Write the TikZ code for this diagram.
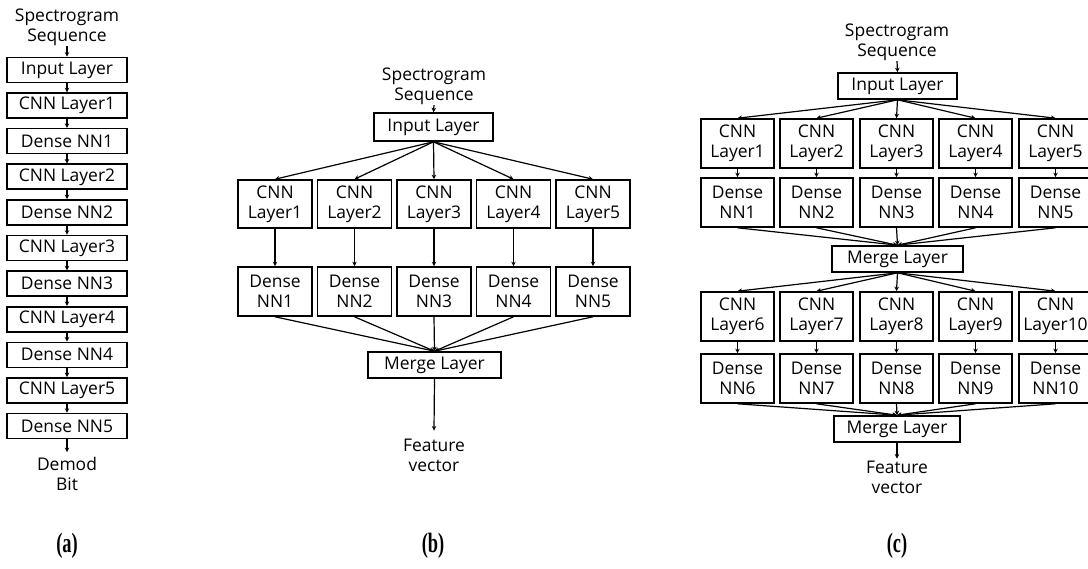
\documentclass[tikz,border=0pt]{standalone}
\usepackage{fontspec}
\setmainfont{Open Sans}
\newfontfamily\capfont{Liberation Serif}
\usetikzlibrary{arrows.meta}
\begin{document}
\begin{tikzpicture}[x=1bp,y=-1bp,
  every node/.style={inner sep=0pt, font=\fontsize{17.5}{20}\selectfont, align=center},
  bx/.style 2 args={draw, line width=1.6bp, minimum width=#1, minimum height=#2},
  lnk/.style={-{Stealth[length=4.5bp,width=4.5bp]}, line width=1.2bp},
  figcap/.style={font=\capfont\bfseries\fontsize{28}{28}\selectfont}
]
\useasboundingbox (0,0) rectangle (1088,569);

% ---------------- (a) ----------------
\node (asrc) at (67,27.5) {Spectrogram\\Sequence};
\foreach \t [count=\i from 0] in {Input Layer, CNN Layer1, Dense NN1, CNN Layer2, Dense NN2, CNN Layer3, Dense NN3, CNN Layer4, Dense NN4, CNN Layer5, Dense NN5}
  \node[bx={120bp}{25bp}] (a\i) at (67,70+35.6*\i) {\t};
\node (aout) at (67,474) {Demod\\Bit};
\draw[lnk] (asrc.south) -- (a0.north);
\foreach \i in {0,...,9} {
  \pgfmathtruncatemacro{\j}{\i+1}
  \draw[lnk] (a\i.south) -- (a\j.north);
}
\draw[lnk] (a10.south) -- ([yshift=5bp]aout.north);
\node[figcap] (capa) at (67,546) {\scalebox{0.66}[1]{(a)}};

% ---------------- (b) ----------------
\node (bsrc) at (434,86.5) {Spectrogram\\Sequence};
\node[bx={119bp}{28bp}] (bin) at (433.5,127) {Input Layer};
\node[bx={133bp}{26bp}] (bm) at (434.5,365) {Merge Layer};
\node (bout) at (434,455) {Feature\\vector};
\draw[lnk] (bsrc.south) -- (bin.north);
\foreach \i/\x in {1/275,2/354.5,3/434,4/513.5,5/593} {
  \node[bx={74bp}{48bp}] (bc\i) at (\x,204) {CNN\\Layer\i};
  \node[bx={74bp}{49bp}] (bd\i) at (\x,291.5) {Dense\\NN\i};
  \draw[lnk] (bin.south) -- (bc\i.north);
  \draw[lnk] (bc\i.south) -- (bd\i.north);
  \draw[lnk] (bd\i.south) -- (bm.north);
}
\draw[lnk] (bm.south) -- ([yshift=8bp]bout.north);
\node[figcap] (capb) at (433,546) {\scalebox{0.66}[1]{(b)}};

% ---------------- (c) ----------------
\node (csrc) at (897,42.5) {Spectrogram\\Sequence};
\node[bx={119bp}{26bp}] (cin) at (897.5,86) {Input Layer};
\node[bx={131bp}{26bp}] (cm1) at (897.5,259) {Merge Layer};
\node[bx={126bp}{26bp}] (cm2) at (897,429) {Merge Layer};
\node (cout) at (897,477) {Feature\\vector};
\draw[lnk] (csrc.south) -- (cin.north);
\foreach \i/\k/\x in {1/6/737.5,2/7/816.5,3/8/896.5,4/9/975.5,5/10/1055.5} {
  \node[bx={73bp}{49bp}] (cc\i) at (\x,143.5) {CNN\\Layer\i};
  \node[bx={73bp}{49bp}] (cd\i) at (\x,202.5) {Dense\\NN\i};
  \node[bx={73bp}{49bp}] (ce\i) at (\x,316.5) {CNN\\Layer\k};
  \node[bx={73bp}{49bp}] (cf\i) at (\x,378.5) {Dense\\NN\k};
  \draw[lnk] (cin.south) -- (cc\i.north);
  \draw[lnk] (cc\i.south) -- (cd\i.north);
  \draw[lnk] (cd\i.south) -- (cm1.north);
  \draw[lnk] (cm1.south) -- (ce\i.north);
  \draw[lnk] (ce\i.south) -- (cf\i.north);
  \draw[lnk] (cf\i.south) -- (cm2.north);
}
\draw[lnk] (cm2.south) -- ([yshift=2bp]cout.north);
\node[figcap] (capc) at (897,546) {\scalebox{0.66}[1]{(c)}};
\end{tikzpicture}
\end{document}
